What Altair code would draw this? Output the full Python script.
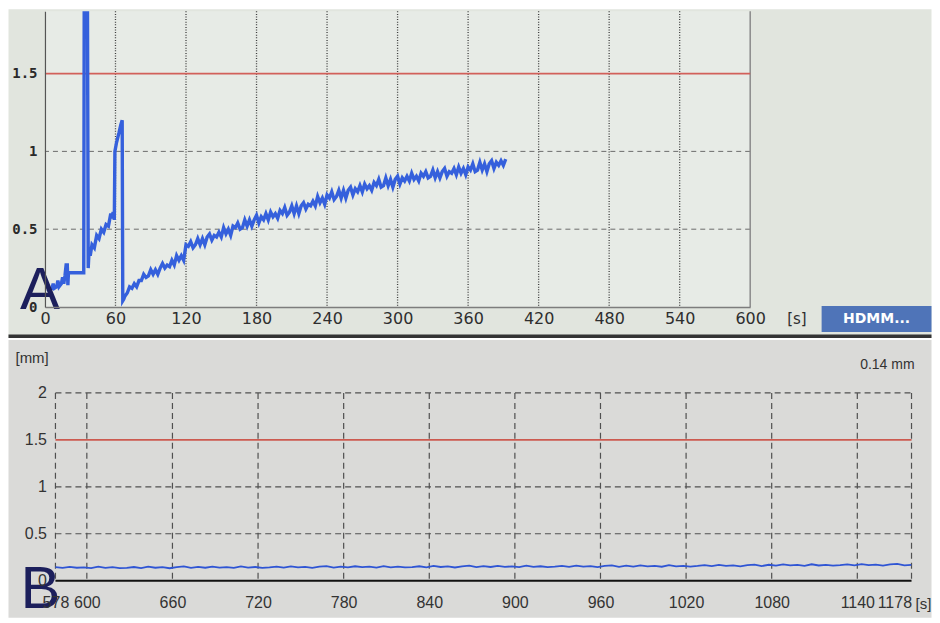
import altair as alt
import pandas as pd

# ---------------- data ----------------
# Panel A: tick values
a_xticks = [0, 60, 120, 180, 240, 300, 360, 420, 480, 540, 600]
a_yticks = [0, 0.5, 1, 1.5]
# Panel B: tick values
b_xticks = [578, 600, 660, 720, 780, 840, 900, 960, 1020, 1080, 1140, 1178]
b_yticks = [0, 0.5, 1, 1.5, 2]
threshold = [1.5]

# Panel A: start of the record (irregular sample times, s) and displacement (mm)
a_early_t = [2, 4, 6, 7, 8, 10, 11, 12, 14, 15, 16, 17, 18, 19, 19.5, 20,
             33, 33.5, 36, 36.8, 37.5, 38.5,
             40, 42, 44, 46, 48, 50, 52, 54, 56, 57, 58, 59,
             59.5, 61, 63, 64.5, 65.7, 66.2, 67]
a_early_v = [0.10, 0.11, 0.12, 0.15, 0.12, 0.13, 0.17, 0.13, 0.15, 0.19, 0.15, 0.20, 0.27, 0.27, 0.14, 0.22,
             0.22, 2.40, 2.40, 0.25, 0.36, 0.33,
             0.40, 0.38, 0.46, 0.44, 0.50, 0.48, 0.53, 0.52, 0.60, 0.57, 0.61, 0.56,
             1.00, 1.06, 1.12, 1.17, 1.20, 0.04, 0.05]

# Panel A: main record, sampled every 2 s from 68 s to 392 s
a_main_t = list(range(68, 393, 2))
a_main_v = [
    0.07, 0.09, 0.13, 0.12, 0.15, 0.13, 0.17, 0.17, 0.21, 0.19,
    0.20, 0.24, 0.21, 0.24, 0.21, 0.25, 0.28, 0.25, 0.27, 0.26,
    0.30, 0.27, 0.33, 0.30, 0.33, 0.30, 0.40, 0.39, 0.42, 0.38,
    0.40, 0.44, 0.40, 0.44, 0.40, 0.45, 0.47, 0.43, 0.46, 0.45,
    0.48, 0.45, 0.51, 0.47, 0.50, 0.46, 0.52, 0.51, 0.54, 0.50,
    0.51, 0.56, 0.52, 0.56, 0.52, 0.56, 0.59, 0.54, 0.58, 0.56,
    0.60, 0.56, 0.61, 0.58, 0.60, 0.57, 0.62, 0.60, 0.64, 0.59,
    0.61, 0.65, 0.60, 0.65, 0.60, 0.65, 0.67, 0.63, 0.66, 0.65,
    0.68, 0.65, 0.71, 0.67, 0.70, 0.66, 0.72, 0.70, 0.74, 0.69,
    0.71, 0.75, 0.70, 0.75, 0.70, 0.75, 0.77, 0.72, 0.76, 0.74,
    0.78, 0.74, 0.79, 0.76, 0.78, 0.75, 0.80, 0.78, 0.82, 0.77,
    0.78, 0.83, 0.78, 0.82, 0.77, 0.82, 0.84, 0.79, 0.83, 0.81,
    0.84, 0.81, 0.86, 0.82, 0.84, 0.81, 0.86, 0.84, 0.87, 0.83,
    0.84, 0.88, 0.83, 0.87, 0.83, 0.87, 0.89, 0.84, 0.87, 0.86,
    0.89, 0.85, 0.90, 0.86, 0.89, 0.85, 0.90, 0.88, 0.92, 0.87,
    0.88, 0.93, 0.88, 0.92, 0.87, 0.92, 0.94, 0.89, 0.93, 0.91,
    0.94, 0.91, 0.95,
]

# Panel B: record sampled every 5 s from 578 s to 1178 s
b_t = list(range(578, 1179, 5))
b_v = [
    0.145, 0.136, 0.148, 0.138, 0.143, 0.134, 0.150, 0.137, 0.144, 0.135,
    0.137, 0.146, 0.135, 0.149, 0.138, 0.144, 0.133, 0.145, 0.152, 0.136,
    0.147, 0.138, 0.150, 0.140, 0.145, 0.136, 0.152, 0.139, 0.146, 0.137,
    0.141, 0.150, 0.139, 0.153, 0.142, 0.148, 0.137, 0.149, 0.156, 0.140,
    0.151, 0.142, 0.154, 0.144, 0.149, 0.140, 0.156, 0.143, 0.150, 0.141,
    0.145, 0.154, 0.143, 0.157, 0.146, 0.152, 0.141, 0.153, 0.160, 0.144,
    0.155, 0.146, 0.158, 0.148, 0.153, 0.144, 0.160, 0.147, 0.154, 0.145,
    0.149, 0.158, 0.147, 0.161, 0.150, 0.156, 0.145, 0.157, 0.164, 0.148,
    0.160, 0.151, 0.163, 0.153, 0.158, 0.149, 0.165, 0.152, 0.159, 0.150,
    0.157, 0.166, 0.155, 0.169, 0.158, 0.164, 0.153, 0.165, 0.172, 0.156,
    0.170, 0.161, 0.173, 0.163, 0.168, 0.159, 0.175, 0.162, 0.169, 0.160,
    0.165, 0.174, 0.163, 0.177, 0.166, 0.172, 0.161, 0.173, 0.180, 0.164,
    0.168,
]

assert len(a_early_t) == len(a_early_v)
assert len(a_main_t) == len(a_main_v)
assert len(b_t) == len(b_v)

dfA = pd.DataFrame({"t": a_early_t + a_main_t, "v": a_early_v + a_main_v})
dfB = pd.DataFrame({"t": b_t, "v": b_v})

# ---------------- styling / layout ----------------
W1, H1 = 706, 296
W2, H2 = 867.5, 188
B_INSET = 10.5                      # panel B plot starts this many px right of panel A's
B_K = (W2 - B_INSET) / (b_xticks[-1] - b_xticks[0])
B_START = b_xticks[0] - B_INSET / B_K

TOP_BG = "#e1e5de"
TOP_PLOT = "#e7ebe6"
BOT_BG = "#dadad8"
INK = "#1c1f5c"
SANS = "Liberation Sans"

one = alt.Data(values=[{"k": 1}])

# ---------- panel A ----------
xA = alt.X("t:Q", scale=alt.Scale(domain=[0, 600], nice=False, zero=False),
           axis=alt.Axis(values=a_xticks, grid=False, ticks=False, domainColor="#7d7d7d",
                         domainWidth=1.5, labelFont="DejaVu Sans", labelFontSize=16,
                         labelColor="#2e2e2e", labelPadding=4, labelFlush=False,
                         labelOverlap=False, title=None, zindex=1, format="d"))
yA = alt.Y("v:Q", scale=alt.Scale(domain=[0, 1.9], nice=False, zero=False),
           axis=alt.Axis(values=a_yticks, grid=False, ticks=False, domainColor="#555555",
                         domainWidth=1.2, labelFont="DejaVu Sans Mono", labelFontWeight="bold",
                         labelFontSize=14, labelColor="#2a2a2a", labelPadding=8,
                         labelFlush=False, labelOverlap=False, title=None, zindex=1, format="~g"))

bgA = alt.Chart(one).mark_rect(color=TOP_BG).encode(
    x=alt.value(-36.5), x2=alt.value(887.5), y=alt.value(-2), y2=alt.value(327))
plotA = alt.Chart(one).mark_rect(color=TOP_PLOT).encode(
    x=alt.value(0), x2=alt.value(W1), y=alt.value(0), y2=alt.value(H1))
sepA = alt.Chart(one).mark_rect(color="#343434").encode(
    x=alt.value(-36.5), x2=alt.value(887.5), y=alt.value(323.5), y2=alt.value(327))
vgridA = alt.Chart(pd.DataFrame({"t": a_xticks[1:-1]})).mark_rule(
    color="#3f3f3f", strokeDash=[1, 1.6], strokeWidth=1.3).encode(x=xA)
hgridA = alt.Chart(pd.DataFrame({"v": [y for y in a_yticks if 0 < y < threshold[0]]})).mark_rule(
    color="#6a6a6a", strokeDash=[5, 4], strokeWidth=1).encode(y=yA)
edgeA = alt.Chart(pd.DataFrame({"t": [a_xticks[-1]]})).mark_rule(
    color="#8a8a8a", strokeWidth=1.5).encode(x=xA)
redA = alt.Chart(pd.DataFrame({"v": threshold})).mark_rule(
    color="#d2605a", strokeWidth=1.6).encode(y=yA)
lineA = alt.Chart(dfA).mark_line(color="#3560dc", strokeWidth=3.4, clip=True).encode(x=xA, y=yA)
letterA = alt.Chart(one).mark_text(text="A", font=SANS, fontSize=60, color=INK,
                                   align="left", baseline="alphabetic").encode(
    x=alt.value(-25), y=alt.value(298))
unitA = alt.Chart(one).mark_text(text="[s]", font="DejaVu Sans", fontSize=15, color="#2e2e2e",
                                 align="left", baseline="middle").encode(
    x=alt.value(743), y=alt.value(308))
btnA = alt.Chart(one).mark_rect(color="#4f74b8").encode(
    x=alt.value(777.5), x2=alt.value(887.5), y=alt.value(295), y2=alt.value(321))
btnTextA = alt.Chart(one).mark_text(text="HDMM...", font="DejaVu Sans", fontSize=14,
                                    fontWeight="bold", color="#ffffff", align="center",
                                    baseline="middle").encode(
    x=alt.value(832.5), y=alt.value(308))

top = alt.layer(bgA, plotA, sepA, vgridA, hgridA, edgeA, redA, lineA,
                letterA, unitA, btnA, btnTextA).properties(width=W1, height=H1)

# ---------- panel B ----------
xB = alt.X("t:Q", scale=alt.Scale(domain=[B_START, b_xticks[-1]], nice=False, zero=False),
           axis=alt.Axis(values=b_xticks, grid=False, ticks=False, domain=False,
                         labelFont=SANS, labelFontSize=16, labelColor="#333333",
                         labelPadding=14, labelFlush=False, labelOverlap=False, title=None,
                         zindex=1, format="d",
                         labelAlign=alt.condition(f"datum.value == {b_xticks[-1]}",
                                                  alt.value("right"), alt.value("center"))))
yB = alt.Y("v:Q", scale=alt.Scale(domain=[0, 2], nice=False, zero=False),
           axis=alt.Axis(values=b_yticks, grid=False, ticks=False, domain=False,
                         labelFont=SANS, labelFontSize=16, labelColor="#333333",
                         labelPadding=9, offset=-B_INSET, labelFlush=False,
                         labelOverlap=False, title=None, zindex=1, format="~g"))

x0B = alt.datum(b_xticks[0])
x1B = alt.datum(b_xticks[-1])

bgB = alt.Chart(one).mark_rect(color=BOT_BG).encode(
    x=alt.value(-36.5), x2=alt.value(887.5), y=alt.value(-53), y2=alt.value(225))
vgridB = alt.Chart(pd.DataFrame({"t": b_xticks})).mark_rule(
    color="#505050", strokeDash=[6, 4], strokeWidth=1.2).encode(x=xB)
hgridB = alt.Chart(pd.DataFrame({"v": [y for y in b_yticks if y > 0 and y != threshold[0]]})).mark_rule(
    color="#505050", strokeDash=[6, 4], strokeWidth=1.2).encode(x=x0B, x2=x1B, y=yB)
redB = alt.Chart(pd.DataFrame({"v": threshold})).mark_rule(
    color="#cc5a50", strokeWidth=1.6).encode(x=x0B, x2=x1B, y=yB)
baseB = alt.Chart(pd.DataFrame({"v": [b_yticks[0]]})).mark_rule(
    color="#111111", strokeWidth=2).encode(x=x0B, x2=x1B, y=yB)
lineB = alt.Chart(dfB).mark_line(color="#2f55d4", strokeWidth=1.8, clip=True).encode(x=xB, y=yB)
mmB = alt.Chart(one).mark_text(text="[mm]", font=SANS, fontSize=15, color="#333333",
                               align="left", baseline="middle").encode(
    x=alt.value(-29.5), y=alt.value(-35))
valB = alt.Chart(one).mark_text(text="0.14 mm", font=SANS, fontSize=14, color="#333333",
                                align="right", baseline="middle").encode(
    x=alt.value(870.5), y=alt.value(-28))
unitB = alt.Chart(one).mark_text(text="[s]", font=SANS, fontSize=15, color="#333333",
                                 align="left", baseline="middle").encode(
    x=alt.value(871.5), y=alt.value(211))
letterB = alt.Chart(one).mark_text(text="B", font=SANS, fontSize=60, color=INK,
                                   align="left", baseline="alphabetic").encode(
    x=alt.value(-24.5), y=alt.value(215))

bottom = alt.layer(bgB, vgridB, hgridB, redB, baseB, lineB, mmB, valB, unitB, letterB).properties(
    width=W2, height=H2)

chart = alt.vconcat(top, bottom, spacing=0).properties(
    padding=0, autosize=alt.AutoSizeParams(type="pad")
).configure_view(strokeWidth=0).configure(background="#ffffff")

chart.save("out.html", embed_options={"renderer": "svg", "actions": False})
